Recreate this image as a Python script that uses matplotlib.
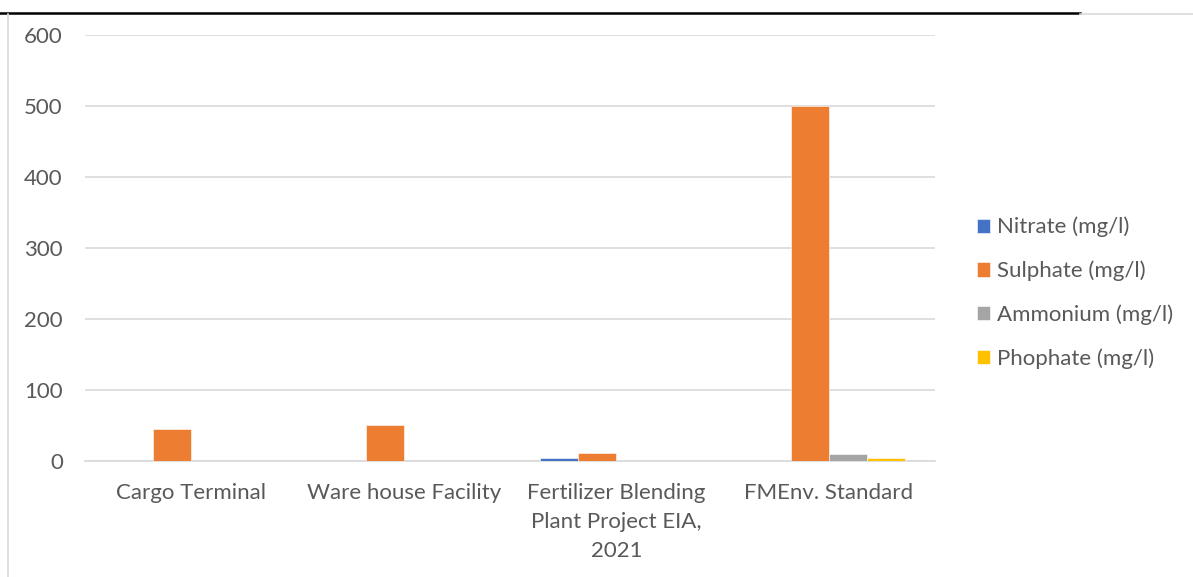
import matplotlib.pyplot as plt
import numpy as np

plt.rcParams['font.family'] = ['Lato', 'DejaVu Sans']

sites = ['Cargo Terminal', 'Ware house Facility',
         'Fertilizer Blending\nPlant Project EIA,\n2021', 'FMEnv. Standard']
params = ['Nitrate (mg/l)', 'Sulphate (mg/l)', 'Ammonium (mg/l)', 'Phophate (mg/l)']
nitrate = [0, 0, 4, 0.5]
sulphate = [45, 51, 11.5, 500]
ammonium = [0, 0, 0, 9.5]
phosphate = [0, 0, 0, 4.5]
colors = ['#4472C4', '#ED7D31', '#A5A5A5', '#FFC000']

series = [nitrate, sulphate, ammonium, phosphate]
text_col = '#595959'
fs = 16

fig = plt.figure(figsize=(11.93, 5.77), dpi=100)
ax = fig.add_axes([85 / 1193, 116 / 577, 850 / 1193, 426 / 577])

x = np.arange(len(sites))
w = 0.18
for i, (vals, name, c) in enumerate(zip(series, params, colors)):
    ax.bar(x + (i - 1.5) * w, vals, w, color=c, label=name,
           edgecolor='white', linewidth=0.4, zorder=3)

ax.set_xlim(-0.5, 3.5)
ax.set_ylim(0, 600)
ax.set_yticks(range(0, 601, 100))
ax.yaxis.grid(True, color='#D9D9D9', linewidth=1.2, zorder=0)
for s in ['top', 'right', 'left']:
    ax.spines[s].set_visible(False)
ax.spines['bottom'].set_color('#D9D9D9')
ax.spines['bottom'].set_linewidth(1.2)
ax.tick_params(length=0, labelsize=fs, colors=text_col, pad=16)
ax.tick_params(axis='y', pad=16)
ax.set_xticks(x)
ax.set_xticklabels(sites, linespacing=1.55, va='top')
ax.set_axisbelow(True)

leg = fig.legend(loc='center left', bbox_to_anchor=(968 / 1193, 1 - 293 / 577),
                 frameon=False, fontsize=fs, labelcolor=text_col,
                 handlelength=0.6, handleheight=0.6, handletextpad=0.3,
                 labelspacing=1.05, borderaxespad=0)

# page frame around the chart
fig.add_artist(plt.Line2D([0, 1080 / 1193], [1 - 13 / 577] * 2, color='black', lw=1.8))
fig.add_artist(plt.Line2D([1080 / 1193, 1], [1 - 14 / 577] * 2, color='#D9D9D9', lw=1.2))
fig.add_artist(plt.Line2D([8 / 1193] * 2, [0, 1 - 14 / 577], color='#D9D9D9', lw=1.2))

fig.savefig('out.png', dpi=100)
